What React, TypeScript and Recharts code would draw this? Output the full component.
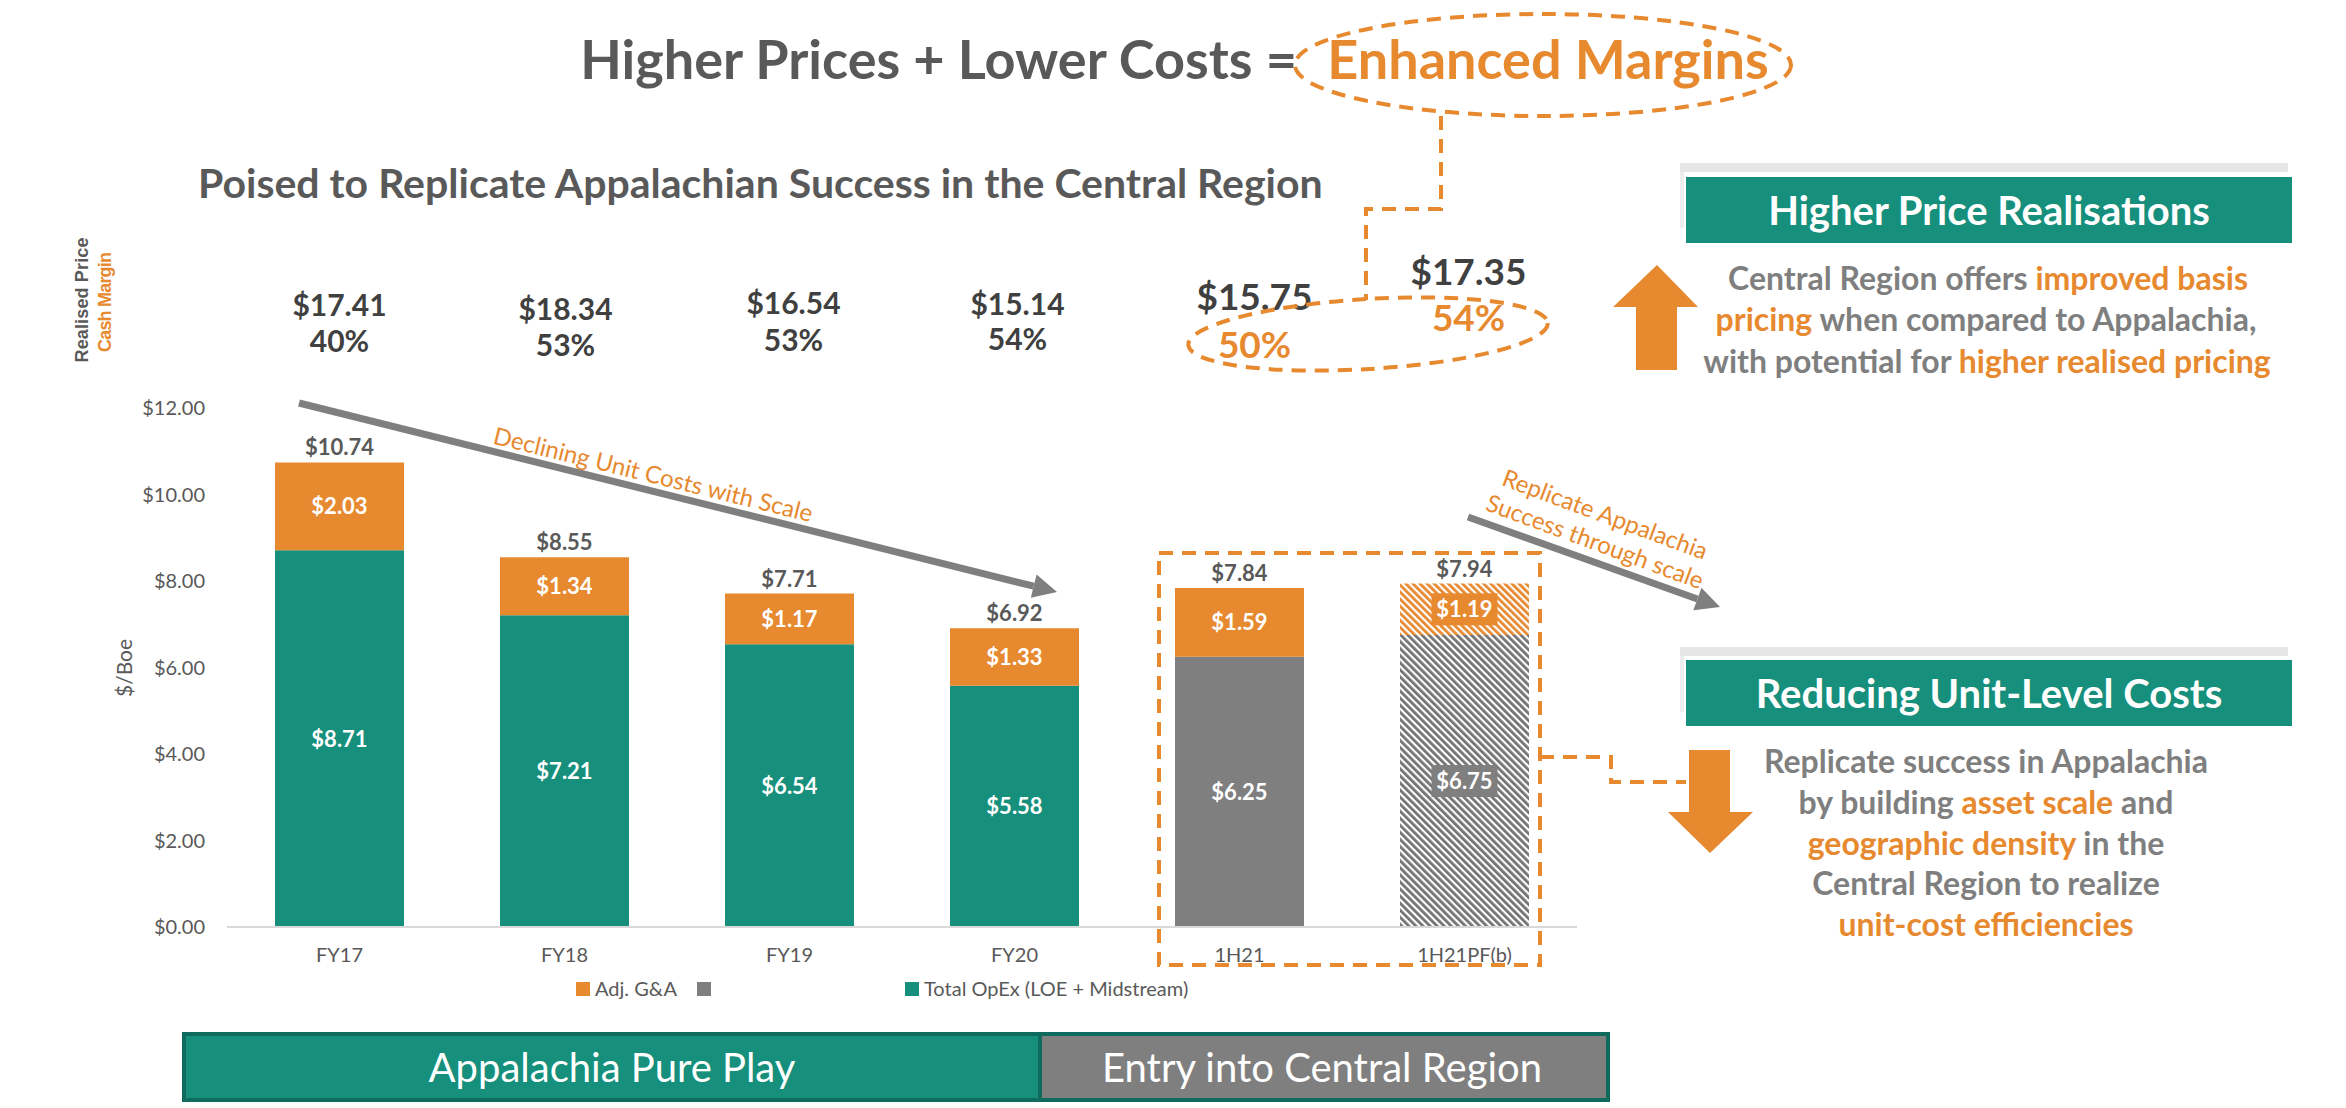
import React from "react";
import { BarChart, Bar, XAxis, YAxis, Cell, LabelList } from "recharts";

// ---- data ----
const periods = ["FY17", "FY18", "FY19", "FY20", "1H21", "1H21PF(b)"];
const totalOpex = [8.71, 7.21, 6.54, 5.58, 6.25, 6.75];
const adjGna = [2.03, 1.34, 1.17, 1.33, 1.59, 1.19];
const totalCost = [10.74, 8.55, 7.71, 6.92, 7.84, 7.94];
const realisedPrice = [17.41, 18.34, 16.54, 15.14, 15.75, 17.35];
const cashMargin = [40, 53, 53, 54, 50, 54];
const yTicks = [0, 2, 4, 6, 8, 10, 12];

const data = periods.map((period, i) => ({
  period,
  opex: totalOpex[i],
  gna: adjGna[i],
  total: totalCost[i],
  price: realisedPrice[i],
}));

// ---- styles ----
const FONT = "Lato, 'Open Sans', sans-serif";
const TEAL = "#168F7C";
const ORANGE = "#E7892F";
const GREY = "#7F7F7F";
const DARK = "#595959";
const INK = "#404040";

const opexFill = [TEAL, TEAL, TEAL, TEAL, GREY, "url(#hatchGrey)"];
const gnaFill = [ORANGE, ORANGE, ORANGE, ORANGE, ORANGE, "url(#hatchOrange)"];

// placement of the price / margin rows above each bar
const priceRow = [
  { dx: 0, py: 305, my: 341, size: 30, mColor: INK },
  { dx: 1, py: 309, my: 345, size: 30, mColor: INK },
  { dx: 4, py: 303, my: 340, size: 30, mColor: INK },
  { dx: 3, py: 304, my: 339, size: 30, mColor: INK },
  { dx: 15, py: 297, my: 345, size: 37, mColor: ORANGE },
  { dx: 4, py: 272, my: 318, size: 37, mColor: ORANGE },
];

const money = (v: number) => `$${v.toFixed(2)}`;

function geom(p: any) {
  const vb = p.viewBox || {};
  return {
    x: Number(p.x ?? vb.x),
    y: Number(p.y ?? vb.y),
    w: Number(p.width ?? vb.width),
    h: Number(p.height ?? vb.height),
  };
}

const innerLabel = (boxFill: string) => (p: any) => {
  const { x, y, w, h } = geom(p);
  const cx = x + w / 2;
  const cy = y + h / 2;
  const last = p.index === periods.length - 1;
  return (
    <g>
      {last && <rect x={cx - 33} y={cy - 16} width={66} height={32} fill={boxFill} />}
      <text x={cx} y={cy + 8} textAnchor="middle" fill="#fff" fontSize={22} fontWeight={700} fontFamily={FONT}>
        {money(Number(p.value))}
      </text>
    </g>
  );
};

const totalLabel = (p: any) => {
  const { x, y, w } = geom(p);
  return (
    <text x={x + w / 2} y={y - 7} textAnchor="middle" fill={DARK} fontSize={22} fontWeight={700} fontFamily={FONT}>
      {money(Number(p.value))}
    </text>
  );
};

const priceLabel = (p: any) => {
  const { x, w } = geom(p);
  const i = Number(p.index);
  const r = priceRow[i];
  if (!r) return null;
  const cx = x + w / 2 + r.dx;
  return (
    <g fontFamily={FONT} fontWeight={700} textAnchor="middle">
      <text x={cx} y={r.py + r.size * 0.36} fontSize={r.size} fill={INK}>{money(Number(p.value))}</text>
      <text x={cx} y={r.my + r.size * 0.36} fontSize={r.size} fill={r.mColor}>{`${cashMargin[i]}%`}</text>
    </g>
  );
};

function Arrow({ x1, y1, x2, y2 }: { x1: number; y1: number; x2: number; y2: number }) {
  const a = Math.atan2(y2 - y1, x2 - x1);
  const L = 24;
  const W = 12;
  const bx = x2 - L * Math.cos(a);
  const by = y2 - L * Math.sin(a);
  const px = -Math.sin(a) * W;
  const py = Math.cos(a) * W;
  return (
    <g>
      <line x1={x1} y1={y1} x2={bx} y2={by} stroke={GREY} strokeWidth={7} />
      <polygon points={`${x2},${y2} ${bx + px},${by + py} ${bx - px},${by - py}`} fill={GREY} />
    </g>
  );
}

const dash = { stroke: ORANGE, strokeWidth: 4, strokeDasharray: "14 9", fill: "none" };

function Overlay() {
  return (
    <svg width={2346} height={1108} style={{ position: "absolute", left: 0, top: 0, pointerEvents: "none" }} fontFamily={FONT}>
      {/* headline */}
      <text x={1297} y={79} textAnchor="end" fontSize={54} fontWeight={700} fill={DARK}>Higher Prices + Lower Costs =</text>
      <text x={1548} y={79} textAnchor="middle" fontSize={54} fontWeight={700} fill={ORANGE}>Enhanced Margins</text>
      <ellipse cx={1543} cy={65} rx={248} ry={51} {...dash} />
      <path d="M1441,116 V209 H1366 V300" {...dash} />
      <ellipse cx={1368} cy={334} rx={180} ry={35} transform="rotate(-3.5 1368 334)" {...dash} />

      <text x={198} y={198} fontSize={41} fontWeight={700} fill={DARK}>Poised to Replicate Appalachian Success in the Central Region</text>

      <g fontFamily="'Liberation Sans', Arial, sans-serif" fontSize={18} fontWeight={700} textAnchor="middle">
        <text x={0} y={0} transform="translate(88 300) rotate(-90)" fill={DARK} textLength={125} lengthAdjust="spacing">Realised Price</text>
        <text x={0} y={0} transform="translate(111 302) rotate(-90)" fill={ORANGE} textLength={100} lengthAdjust="spacing">Cash Margin</text>
      </g>

      <text transform="translate(123 668) rotate(-90)" textAnchor="middle" dominantBaseline="central" fontSize={21} fill={DARK}>$/Boe</text>

      {/* trend arrows */}
      <Arrow x1={299} y1={403} x2={1057} y2={592} />
      <text transform="translate(653 475) rotate(13.9)" y={8} textAnchor="middle" fontSize={24} fill={ORANGE}>Declining Unit Costs with Scale</text>
      <Arrow x1={1468} y1={517} x2={1720} y2={607} />
      <g transform="translate(1600 528) rotate(20.3)" fontSize={24} fill={ORANGE} textAnchor="middle">
        <text y={-6}>Replicate Appalachia</text>
        <text y={23}>Success through scale</text>
      </g>

      {/* box round the central region bars */}
      <rect x={1159} y={553} width={381} height={412} {...dash} />
      <path d="M1540,757 H1611 V782 H1686" {...dash} />

      {/* legend */}
      <rect x={576} y={982} width={14} height={14} fill={ORANGE} />
      <text x={595} y={996} fontSize={20} fill={DARK}>Adj. G&amp;A</text>
      <rect x={697} y={982} width={14} height={14} fill={GREY} />
      <rect x={905} y={982} width={14} height={14} fill={TEAL} />
      <text x={924} y={996} fontSize={20} fill={DARK}>Total OpEx (LOE + Midstream)</text>

      {/* phase banners */}
      <rect x={184} y={1034} width={856} height={66} fill={TEAL} stroke="#0F6B5D" strokeWidth={4} />
      <rect x={1040} y={1034} width={568} height={66} fill={GREY} stroke="#0F6B5D" strokeWidth={4} />
      <text x={612} y={1082} textAnchor="middle" fontSize={40} fill="#fff">Appalachia Pure Play</text>
      <text x={1322} y={1082} textAnchor="middle" fontSize={40} fill="#fff">Entry into Central Region</text>

      {/* right panel: prices */}
      <rect x={1680} y={163} width={608} height={9} fill="#E6E6E6" />
      <rect x={1680} y={172} width={4} height={56} fill="#EDEDED" />
      <rect x={1686} y={177} width={606} height={66} fill={TEAL} />
      <text x={1989} y={225} textAnchor="middle" fontSize={40} fontWeight={700} fill="#fff">Higher Price Realisations</text>
      <polygon points="1657,265 1698,307 1677,307 1677,370 1636,370 1636,307 1613,307" fill={ORANGE} />
      <g fontSize={32} fontWeight={700} textAnchor="middle">
        <text x={1988} y={290}>
          <tspan fill={GREY}>{"Central Region offers "}</tspan>
          <tspan fill={ORANGE}>{"improved basis"}</tspan>
        </text>
        <text x={1986} y={331}>
          <tspan fill={ORANGE}>{"pricing"}</tspan>
          <tspan fill={GREY}>{" when compared to Appalachia,"}</tspan>
        </text>
        <text x={1987} y={373}>
          <tspan fill={GREY}>{"with potential for "}</tspan>
          <tspan fill={ORANGE}>{"higher realised pricing"}</tspan>
        </text>
      </g>

      {/* right panel: costs */}
      <rect x={1680} y={647} width={608} height={9} fill="#E6E6E6" />
      <rect x={1680} y={656} width={4} height={56} fill="#EDEDED" />
      <rect x={1686} y={660} width={606} height={66} fill={TEAL} />
      <text x={1989} y={708} textAnchor="middle" fontSize={40} fontWeight={700} fill="#fff">Reducing Unit-Level Costs</text>
      <polygon points="1689,750 1730,750 1730,812 1753,812 1710,853 1668,812 1689,812" fill={ORANGE} />
      <g fontSize={32} fontWeight={700} textAnchor="middle">
        <text x={1986} y={773} fill={GREY}>Replicate success in Appalachia</text>
        <text x={1986} y={814}>
          <tspan fill={GREY}>{"by building "}</tspan>
          <tspan fill={ORANGE}>{"asset scale"}</tspan>
          <tspan fill={GREY}>{" and"}</tspan>
        </text>
        <text x={1986} y={855}>
          <tspan fill={ORANGE}>{"geographic density"}</tspan>
          <tspan fill={GREY}>{" in the"}</tspan>
        </text>
        <text x={1986} y={895} fill={GREY}>Central Region to realize</text>
        <text x={1986} y={936} fill={ORANGE}>unit-cost efficiencies</text>
      </g>
    </svg>
  );
}

export default function App() {
  return (
    <div style={{ position: "absolute", left: 0, top: 0, width: 2346, height: 1108, background: "#fff" }}>
      <svg width={0} height={0} style={{ position: "absolute" }}>
        <defs>
          <pattern id="hatchGrey" patternUnits="userSpaceOnUse" width={5} height={5} patternTransform="rotate(-45)">
            <rect width={5} height={5} fill="#fff" />
            <rect width={2.8} height={5} fill="#737373" />
          </pattern>
          <pattern id="hatchOrange" patternUnits="userSpaceOnUse" width={5} height={5} patternTransform="rotate(-45)">
            <rect width={5} height={5} fill="#fff" />
            <rect width={2.8} height={5} fill={ORANGE} />
          </pattern>
        </defs>
      </svg>
      <div style={{ position: "absolute", left: 0, top: 0 }}>
        <BarChart
          width={2346}
          height={1108}
          data={data}
          barSize={129}
          margin={{ top: 408, right: 769, left: 107, bottom: 141 }}
        >
          <XAxis
            dataKey="period"
            interval={0}
            height={40}
            axisLine={{ stroke: "#D9D9D9", strokeWidth: 2 }}
            tickLine={false}
            tickMargin={15}
            tick={{ fill: DARK, fontSize: 20, fontFamily: FONT }}
          />
          <YAxis
            width={120}
            domain={[0, 12]}
            ticks={yTicks}
            tickFormatter={(v: number) => money(v)}
            axisLine={false}
            tickLine={false}
            tickMargin={16}
            tick={{ fill: DARK, fontSize: 20, fontFamily: FONT }}
          />
          <Bar dataKey="opex" stackId="cost" isAnimationActive={false}>
            {data.map((d, i) => (
              <Cell key={d.period} fill={opexFill[i]} />
            ))}
            <LabelList dataKey="opex" content={innerLabel(GREY)} />
          </Bar>
          <Bar dataKey="gna" stackId="cost" isAnimationActive={false}>
            {data.map((d, i) => (
              <Cell key={d.period} fill={gnaFill[i]} />
            ))}
            <LabelList dataKey="gna" content={innerLabel(ORANGE)} />
            <LabelList dataKey="total" content={totalLabel} />
            <LabelList dataKey="price" content={priceLabel} />
          </Bar>
        </BarChart>
      </div>
      <Overlay />
    </div>
  );
}
